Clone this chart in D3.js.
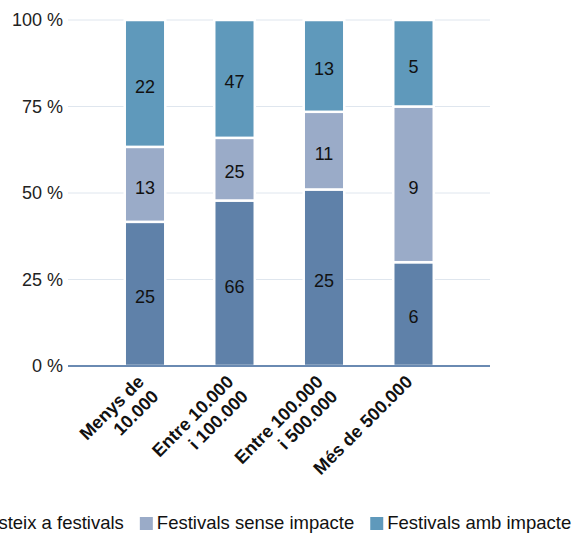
<!DOCTYPE html>
<html>
<head>
<meta charset="utf-8">
<script src="https://cdn.jsdelivr.net/npm/d3@7/dist/d3.min.js"></script>
<style>
  html, body { margin: 0; padding: 0; background: #fff; }
  svg { display: block; font-family: "Liberation Sans", Arial, Helvetica, sans-serif; }
</style>
</head>
<body>
<svg id="chart" width="577" height="533"></svg>
<script>
// Municipality size groups (two-line labels split on "|")
const categories = ["Menys de|10.000", "Entre 10.000|i 100.000", "Entre 100.000|i 500.000", "Més de 500.000"];
const seriesNames = ["No assisteix a festivals", "Festivals sense impacte", "Festivals amb impacte"];
const noFestival = [25, 66, 25, 6];
const festivalNoImpact = [13, 25, 11, 9];
const festivalImpact = [22, 47, 13, 5];
const yTicks = [0, 25, 50, 75, 100];
const colors = ["#5f81a9", "#9aabc8", "#5f99bb"];

const svg = d3.select("#chart");
const plot = { left: 68, right: 490, top: 20, bottom: 366 };

const x = d3.scaleBand()
  .domain(categories)
  .range([100.25, 458.25])
  .paddingInner(0.575)
  .paddingOuter(0.2875);

const y = d3.scaleLinear().domain([0, 100]).range([plot.bottom, plot.top]);

// Percent stacking of the three series
const rows = categories.map((c, i) => ({
  cat: c,
  s0: noFestival[i],
  s1: festivalNoImpact[i],
  s2: festivalImpact[i]
}));
const stack = d3.stack().keys(["s0", "s1", "s2"]).offset(d3.stackOffsetExpand);
const layers = stack(rows);

// Gridlines
svg.append("g")
  .selectAll("line")
  .data(yTicks.filter(t => t > 0))
  .join("line")
  .attr("x1", plot.left).attr("x2", plot.right)
  .attr("y1", d => y(d)).attr("y2", d => y(d))
  .attr("stroke", "#dfe6ee").attr("stroke-width", 1);

// Y axis labels
const yAxis = d3.axisLeft(y).tickValues(yTicks).tickSize(0).tickPadding(5)
  .tickFormat(d => d + " %");
svg.append("g")
  .attr("transform", `translate(${plot.left},0)`)
  .call(yAxis)
  .call(g => g.select(".domain").remove())
  .call(g => g.selectAll("text")
    .attr("font-size", 18)
    .attr("fill", "#222")
    .attr("font-family", "Liberation Sans, Arial, sans-serif"));

// Bars
const stroke = 2.5;
const layerG = svg.append("g")
  .selectAll("g")
  .data(layers)
  .join("g")
  .attr("fill", (d, i) => colors[i]);

layerG.selectAll("rect")
  .data(d => d)
  .join("rect")
  .attr("x", d => x(d.data.cat) - stroke / 2)
  .attr("width", x.bandwidth() + stroke)
  .attr("y", d => y(d[1] * 100))
  .attr("height", d => y(d[0] * 100) - y(d[1] * 100))
  .attr("stroke", "#fff")
  .attr("stroke-width", stroke);

// Value labels centred in each segment
layerG.selectAll("text")
  .data((d) => d.map(p => ({ p, v: p.data[d.key] })))
  .join("text")
  .attr("x", d => x(d.p.data.cat) + x.bandwidth() / 2)
  .attr("y", d => (y(d.p[0] * 100) + y(d.p[1] * 100)) / 2 + 3)
  .attr("dy", "0.35em")
  .attr("text-anchor", "middle")
  .attr("font-size", 18)
  .attr("fill", "#111")
  .text(d => d.v);

// X axis baseline
svg.append("line")
  .attr("x1", plot.left).attr("x2", plot.right)
  .attr("y1", plot.bottom).attr("y2", plot.bottom)
  .attr("stroke", "#6a8ab2").attr("stroke-width", 2);

// Rotated category labels
const xLab = svg.append("g")
  .selectAll("text")
  .data(categories)
  .join("text")
  .attr("transform", d => `translate(${x(d) + x.bandwidth() / 2},${plot.bottom + 17}) rotate(-45)`)
  .attr("text-anchor", "end")
  .attr("font-size", 18)
  .attr("font-weight", "bold")
  .attr("fill", "#111");
xLab.selectAll("tspan")
  .data(d => d.split("|"))
  .join("tspan")
  .attr("x", 0)
  .attr("dy", (d, i) => i === 0 ? 0 : "1.15em")
  .text(d => d);

// Legend, centred horizontally
const legend = svg.append("g");
const items = legend.selectAll("g")
  .data(seriesNames)
  .join("g");
items.append("rect")
  .attr("width", 13).attr("height", 13)
  .attr("y", -12)
  .attr("fill", (d, i) => colors[i]);
items.append("text")
  .attr("x", 17)
  .attr("font-size", 18.5)
  .attr("fill", "#111")
  .text(d => d);
let cursor = 0;
items.each(function () {
  const w = this.getBBox().width;
  d3.select(this).attr("transform", `translate(${cursor},0)`);
  cursor += w + 16;
});
const total = cursor - 16;
legend.attr("transform", `translate(${245.5 - total / 2},529)`);
</script>
</body>
</html>
